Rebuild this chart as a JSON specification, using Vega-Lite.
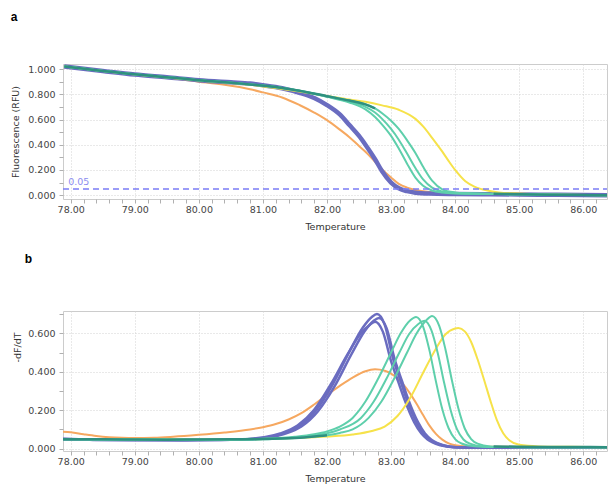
{
  "$schema": "https://vega.github.io/schema/vega-lite/v6.json",
  "padding": {"left": 10, "top": 10, "right": 0, "bottom": 0},
  "spacing": 20,
  "config": {
    "view": {"stroke": "#cccccc"},
    "font": "DejaVu Sans",
    "axis": {"labelFont": "DejaVu Sans", "labelFontSize": 9.5, "labelColor": "#444444", "titleFont": "DejaVu Sans", "titleFontSize": 9.5, "titleFontWeight": "normal", "titleColor": "#333333", "gridColor": "#d2d2d2", "gridDash": [1, 2], "tickColor": "#b0b0b0", "tickSize": 4, "domain": false, "labelOverlap": false, "labelFlush": false},
    "axisX": {"labelPadding": 1, "titlePadding": 8},
    "axisY": {"labelPadding": 4, "titlePadding": 7},
    "title": {"font": "Liberation Sans", "fontSize": 12, "fontWeight": "bold", "anchor": "start", "frame": "bounds", "color": "#000000"}
  },
  "datasets": {
    "a": [
      {"g":"o","s":"o","t":77.9,"v":1.02},{"g":"o","s":"o","t":78.5,"v":0.985},{"g":"o","s":"o","t":79.0,"v":0.955},{"g":"o","s":"o","t":79.5,"v":0.93},{"g":"o","s":"o","t":80.0,"v":0.9},{"g":"o","s":"o","t":80.4,"v":0.875},{"g":"o","s":"o","t":80.8,"v":0.84},{"g":"o","s":"o","t":81.0,"v":0.815},{"g":"o","s":"o","t":81.3,"v":0.775},{"g":"o","s":"o","t":81.57,"v":0.715},{"g":"o","s":"o","t":81.8,"v":0.655},{"g":"o","s":"o","t":82.0,"v":0.595},{"g":"o","s":"o","t":82.2,"v":0.52},{"g":"o","s":"o","t":82.35,"v":0.46},{"g":"o","s":"o","t":82.5,"v":0.39},{"g":"o","s":"o","t":82.6,"v":0.345},{"g":"o","s":"o","t":82.75,"v":0.265},{"g":"o","s":"o","t":82.86,"v":0.205},{"g":"o","s":"o","t":83.0,"v":0.14},{"g":"o","s":"o","t":83.12,"v":0.09},{"g":"o","s":"o","t":83.25,"v":0.06},{"g":"o","s":"o","t":83.38,"v":0.042},{"g":"o","s":"o","t":83.6,"v":0.026},{"g":"o","s":"o","t":84.0,"v":0.016},{"g":"o","s":"o","t":84.5,"v":0.01},{"g":"o","s":"o","t":85.0,"v":0.007},{"g":"o","s":"o","t":85.5,"v":0.004},{"g":"o","s":"o","t":86.37,"v":0.0},
      {"g":"p","s":"p","t":77.9,"v":1.02},{"g":"p","s":"p","t":78.5,"v":0.985},{"g":"p","s":"p","t":79.0,"v":0.957},{"g":"p","s":"p","t":79.5,"v":0.935},{"g":"p","s":"p","t":80.0,"v":0.912},{"g":"p","s":"p","t":80.5,"v":0.895},{"g":"p","s":"p","t":80.8,"v":0.885},{"g":"p","s":"p","t":81.0,"v":0.872},{"g":"p","s":"p","t":81.3,"v":0.848},{"g":"p","s":"p","t":81.57,"v":0.812},{"g":"p","s":"p","t":81.8,"v":0.77},{"g":"p","s":"p","t":82.0,"v":0.714},{"g":"p","s":"p","t":82.2,"v":0.64},{"g":"p","s":"p","t":82.35,"v":0.556},{"g":"p","s":"p","t":82.5,"v":0.47},{"g":"p","s":"p","t":82.6,"v":0.4},{"g":"p","s":"p","t":82.75,"v":0.285},{"g":"p","s":"p","t":82.86,"v":0.19},{"g":"p","s":"p","t":83.0,"v":0.1},{"g":"p","s":"p","t":83.12,"v":0.055},{"g":"p","s":"p","t":83.25,"v":0.032},{"g":"p","s":"p","t":83.38,"v":0.02},{"g":"p","s":"p","t":83.6,"v":0.013},{"g":"p","s":"p","t":84.0,"v":0.01},{"g":"p","s":"p","t":84.5,"v":0.008},{"g":"p","s":"p","t":85.0,"v":0.006},{"g":"p","s":"p","t":85.6,"v":0.003},{"g":"p","s":"p","t":86.37,"v":0.0},
      {"g":"y","s":"y","t":77.9,"v":1.02},{"g":"y","s":"y","t":79.0,"v":0.957},{"g":"y","s":"y","t":80.0,"v":0.91},{"g":"y","s":"y","t":80.8,"v":0.876},{"g":"y","s":"y","t":81.57,"v":0.822},{"g":"y","s":"y","t":82.0,"v":0.787},{"g":"y","s":"y","t":82.35,"v":0.758},{"g":"y","s":"y","t":82.6,"v":0.74},{"g":"y","s":"y","t":82.86,"v":0.712},{"g":"y","s":"y","t":83.12,"v":0.677},{"g":"y","s":"y","t":83.38,"v":0.605},{"g":"y","s":"y","t":83.5,"v":0.545},{"g":"y","s":"y","t":83.64,"v":0.455},{"g":"y","s":"y","t":83.8,"v":0.345},{"g":"y","s":"y","t":83.9,"v":0.27},{"g":"y","s":"y","t":84.0,"v":0.2},{"g":"y","s":"y","t":84.16,"v":0.11},{"g":"y","s":"y","t":84.3,"v":0.068},{"g":"y","s":"y","t":84.42,"v":0.047},{"g":"y","s":"y","t":84.68,"v":0.022},{"g":"y","s":"y","t":85.0,"v":0.013},{"g":"y","s":"y","t":85.5,"v":0.006},{"g":"y","s":"y","t":86.37,"v":0.0},
      {"g":"t","s":"t1","t":77.9,"v":1.02},{"g":"t","s":"t1","t":79.0,"v":0.958},{"g":"t","s":"t1","t":80.0,"v":0.912},{"g":"t","s":"t1","t":80.8,"v":0.878},{"g":"t","s":"t1","t":81.3,"v":0.85},{"g":"t","s":"t1","t":81.57,"v":0.828},{"g":"t","s":"t1","t":82.0,"v":0.78},{"g":"t","s":"t1","t":82.35,"v":0.735},{"g":"t","s":"t1","t":82.6,"v":0.68},{"g":"t","s":"t1","t":82.75,"v":0.62},{"g":"t","s":"t1","t":82.86,"v":0.56},{"g":"t","s":"t1","t":83.0,"v":0.47},{"g":"t","s":"t1","t":83.12,"v":0.37},{"g":"t","s":"t1","t":83.25,"v":0.25},{"g":"t","s":"t1","t":83.38,"v":0.14},{"g":"t","s":"t1","t":83.5,"v":0.075},{"g":"t","s":"t1","t":83.64,"v":0.037},{"g":"t","s":"t1","t":83.8,"v":0.021},{"g":"t","s":"t1","t":84.0,"v":0.014},{"g":"t","s":"t1","t":84.5,"v":0.01},{"g":"t","s":"t1","t":85.0,"v":0.007},{"g":"t","s":"t1","t":85.6,"v":0.003},{"g":"t","s":"t1","t":86.37,"v":0.0},
      {"g":"t","s":"t2","t":77.9,"v":1.02},{"g":"t","s":"t2","t":79.0,"v":0.958},{"g":"t","s":"t2","t":80.0,"v":0.912},{"g":"t","s":"t2","t":80.8,"v":0.878},{"g":"t","s":"t2","t":81.3,"v":0.85},{"g":"t","s":"t2","t":81.57,"v":0.828},{"g":"t","s":"t2","t":82.0,"v":0.782},{"g":"t","s":"t2","t":82.35,"v":0.742},{"g":"t","s":"t2","t":82.6,"v":0.7},{"g":"t","s":"t2","t":82.75,"v":0.655},{"g":"t","s":"t2","t":82.86,"v":0.605},{"g":"t","s":"t2","t":83.0,"v":0.525},{"g":"t","s":"t2","t":83.12,"v":0.44},{"g":"t","s":"t2","t":83.25,"v":0.33},{"g":"t","s":"t2","t":83.38,"v":0.215},{"g":"t","s":"t2","t":83.5,"v":0.125},{"g":"t","s":"t2","t":83.64,"v":0.06},{"g":"t","s":"t2","t":83.8,"v":0.03},{"g":"t","s":"t2","t":84.0,"v":0.017},{"g":"t","s":"t2","t":84.5,"v":0.011},{"g":"t","s":"t2","t":85.0,"v":0.007},{"g":"t","s":"t2","t":85.6,"v":0.003},{"g":"t","s":"t2","t":86.37,"v":0.0},
      {"g":"t","s":"t3","t":77.9,"v":1.02},{"g":"t","s":"t3","t":79.0,"v":0.958},{"g":"t","s":"t3","t":80.0,"v":0.912},{"g":"t","s":"t3","t":80.8,"v":0.878},{"g":"t","s":"t3","t":81.3,"v":0.85},{"g":"t","s":"t3","t":81.57,"v":0.828},{"g":"t","s":"t3","t":82.0,"v":0.785},{"g":"t","s":"t3","t":82.35,"v":0.75},{"g":"t","s":"t3","t":82.6,"v":0.72},{"g":"t","s":"t3","t":82.75,"v":0.688},{"g":"t","s":"t3","t":82.86,"v":0.65},{"g":"t","s":"t3","t":83.0,"v":0.59},{"g":"t","s":"t3","t":83.12,"v":0.525},{"g":"t","s":"t3","t":83.25,"v":0.435},{"g":"t","s":"t3","t":83.38,"v":0.335},{"g":"t","s":"t3","t":83.5,"v":0.225},{"g":"t","s":"t3","t":83.64,"v":0.115},{"g":"t","s":"t3","t":83.8,"v":0.047},{"g":"t","s":"t3","t":84.0,"v":0.022},{"g":"t","s":"t3","t":84.2,"v":0.015},{"g":"t","s":"t3","t":84.5,"v":0.011},{"g":"t","s":"t3","t":85.0,"v":0.007},{"g":"t","s":"t3","t":85.6,"v":0.003},{"g":"t","s":"t3","t":86.37,"v":0.0},
      {"g":"k","s":"k1","t":77.9,"v":1.02},{"g":"k","s":"k1","t":79.0,"v":0.958},{"g":"k","s":"k1","t":80.0,"v":0.912},{"g":"k","s":"k1","t":80.8,"v":0.878},{"g":"k","s":"k1","t":81.3,"v":0.85},{"g":"k","s":"k1","t":81.57,"v":0.828},{"g":"k","s":"k1","t":82.0,"v":0.785},{"g":"k","s":"k1","t":82.35,"v":0.75},{"g":"k","s":"k1","t":82.6,"v":0.72},{"g":"k","s":"k1","t":82.75,"v":0.688},
      {"g":"k","s":"k2","t":84.6,"v":0.012},{"g":"k","s":"k2","t":85.0,"v":0.008},{"g":"k","s":"k2","t":85.5,"v":0.004},{"g":"k","s":"k2","t":86.0,"v":0.001},{"g":"k","s":"k2","t":86.37,"v":0.0}
    ],
    "b": [
      {"g":"o","s":"o","t":77.88,"v":0.088},{"g":"o","s":"o","t":78.0,"v":0.085},{"g":"o","s":"o","t":78.2,"v":0.075},{"g":"o","s":"o","t":78.4,"v":0.066},{"g":"o","s":"o","t":78.6,"v":0.06},{"g":"o","s":"o","t":78.8,"v":0.057},{"g":"o","s":"o","t":79.0,"v":0.056},{"g":"o","s":"o","t":79.3,"v":0.057},{"g":"o","s":"o","t":79.6,"v":0.062},{"g":"o","s":"o","t":80.0,"v":0.072},{"g":"o","s":"o","t":80.4,"v":0.084},{"g":"o","s":"o","t":80.8,"v":0.1},{"g":"o","s":"o","t":81.0,"v":0.112},{"g":"o","s":"o","t":81.2,"v":0.128},{"g":"o","s":"o","t":81.4,"v":0.152},{"g":"o","s":"o","t":81.6,"v":0.185},{"g":"o","s":"o","t":81.8,"v":0.23},{"g":"o","s":"o","t":82.0,"v":0.28},{"g":"o","s":"o","t":82.2,"v":0.327},{"g":"o","s":"o","t":82.4,"v":0.37},{"g":"o","s":"o","t":82.6,"v":0.403},{"g":"o","s":"o","t":82.75,"v":0.413},{"g":"o","s":"o","t":82.9,"v":0.405},{"g":"o","s":"o","t":83.0,"v":0.39},{"g":"o","s":"o","t":83.1,"v":0.365},{"g":"o","s":"o","t":83.2,"v":0.33},{"g":"o","s":"o","t":83.3,"v":0.285},{"g":"o","s":"o","t":83.4,"v":0.232},{"g":"o","s":"o","t":83.5,"v":0.175},{"g":"o","s":"o","t":83.6,"v":0.12},{"g":"o","s":"o","t":83.7,"v":0.077},{"g":"o","s":"o","t":83.8,"v":0.047},{"g":"o","s":"o","t":83.9,"v":0.028},{"g":"o","s":"o","t":84.0,"v":0.018},{"g":"o","s":"o","t":84.2,"v":0.012},{"g":"o","s":"o","t":84.6,"v":0.01},{"g":"o","s":"o","t":85.2,"v":0.009},{"g":"o","s":"o","t":86.37,"v":0.008},
      {"g":"p","s":"p1","t":77.88,"v":0.05},{"g":"p","s":"p1","t":78.3,"v":0.047},{"g":"p","s":"p1","t":79.0,"v":0.045},{"g":"p","s":"p1","t":79.5,"v":0.044},{"g":"p","s":"p1","t":80.0,"v":0.045},{"g":"p","s":"p1","t":80.5,"v":0.047},{"g":"p","s":"p1","t":80.8,"v":0.05},{"g":"p","s":"p1","t":81.05,"v":0.058},{"g":"p","s":"p1","t":81.3,"v":0.078},{"g":"p","s":"p1","t":81.57,"v":0.118},{"g":"p","s":"p1","t":81.83,"v":0.2},{"g":"p","s":"p1","t":82.09,"v":0.335},{"g":"p","s":"p1","t":82.35,"v":0.505},{"g":"p","s":"p1","t":82.56,"v":0.63},{"g":"p","s":"p1","t":82.7,"v":0.685},{"g":"p","s":"p1","t":82.78,"v":0.7},{"g":"p","s":"p1","t":82.9,"v":0.645},{"g":"p","s":"p1","t":83.03,"v":0.47},{"g":"p","s":"p1","t":83.14,"v":0.36},{"g":"p","s":"p1","t":83.24,"v":0.26},{"g":"p","s":"p1","t":83.39,"v":0.14},{"g":"p","s":"p1","t":83.5,"v":0.08},{"g":"p","s":"p1","t":83.6,"v":0.048},{"g":"p","s":"p1","t":83.8,"v":0.018},{"g":"p","s":"p1","t":84.0,"v":0.008},{"g":"p","s":"p1","t":84.5,"v":0.005},{"g":"p","s":"p1","t":86.37,"v":0.005},
      {"g":"p","s":"p2","t":77.88,"v":0.048},{"g":"p","s":"p2","t":78.3,"v":0.046},{"g":"p","s":"p2","t":79.0,"v":0.044},{"g":"p","s":"p2","t":79.5,"v":0.045},{"g":"p","s":"p2","t":80.0,"v":0.046},{"g":"p","s":"p2","t":80.5,"v":0.047},{"g":"p","s":"p2","t":80.8,"v":0.049},{"g":"p","s":"p2","t":81.08,"v":0.057},{"g":"p","s":"p2","t":81.33,"v":0.076},{"g":"p","s":"p2","t":81.6,"v":0.115},{"g":"p","s":"p2","t":81.86,"v":0.195},{"g":"p","s":"p2","t":82.12,"v":0.325},{"g":"p","s":"p2","t":82.38,"v":0.49},{"g":"p","s":"p2","t":82.59,"v":0.612},{"g":"p","s":"p2","t":82.73,"v":0.665},{"g":"p","s":"p2","t":82.81,"v":0.68},{"g":"p","s":"p2","t":82.93,"v":0.627},{"g":"p","s":"p2","t":83.06,"v":0.46},{"g":"p","s":"p2","t":83.17,"v":0.352},{"g":"p","s":"p2","t":83.27,"v":0.255},{"g":"p","s":"p2","t":83.42,"v":0.138},{"g":"p","s":"p2","t":83.53,"v":0.079},{"g":"p","s":"p2","t":83.63,"v":0.047},{"g":"p","s":"p2","t":83.83,"v":0.017},{"g":"p","s":"p2","t":84.03,"v":0.008},{"g":"p","s":"p2","t":84.5,"v":0.005},{"g":"p","s":"p2","t":86.37,"v":0.005},
      {"g":"p","s":"p3","t":77.88,"v":0.052},{"g":"p","s":"p3","t":78.3,"v":0.048},{"g":"p","s":"p3","t":79.0,"v":0.046},{"g":"p","s":"p3","t":79.5,"v":0.045},{"g":"p","s":"p3","t":80.0,"v":0.044},{"g":"p","s":"p3","t":80.5,"v":0.046},{"g":"p","s":"p3","t":80.8,"v":0.051},{"g":"p","s":"p3","t":81.02,"v":0.059},{"g":"p","s":"p3","t":81.27,"v":0.079},{"g":"p","s":"p3","t":81.54,"v":0.12},{"g":"p","s":"p3","t":81.8,"v":0.202},{"g":"p","s":"p3","t":82.06,"v":0.335},{"g":"p","s":"p3","t":82.32,"v":0.49},{"g":"p","s":"p3","t":82.53,"v":0.6},{"g":"p","s":"p3","t":82.67,"v":0.645},{"g":"p","s":"p3","t":82.75,"v":0.66},{"g":"p","s":"p3","t":82.87,"v":0.61},{"g":"p","s":"p3","t":83.0,"v":0.455},{"g":"p","s":"p3","t":83.11,"v":0.35},{"g":"p","s":"p3","t":83.21,"v":0.255},{"g":"p","s":"p3","t":83.36,"v":0.138},{"g":"p","s":"p3","t":83.47,"v":0.08},{"g":"p","s":"p3","t":83.57,"v":0.048},{"g":"p","s":"p3","t":83.77,"v":0.018},{"g":"p","s":"p3","t":83.97,"v":0.008},{"g":"p","s":"p3","t":84.5,"v":0.005},{"g":"p","s":"p3","t":86.37,"v":0.005},
      {"g":"y","s":"y","t":77.88,"v":0.05},{"g":"y","s":"y","t":79.0,"v":0.05},{"g":"y","s":"y","t":80.0,"v":0.048},{"g":"y","s":"y","t":81.0,"v":0.05},{"g":"y","s":"y","t":81.5,"v":0.055},{"g":"y","s":"y","t":82.0,"v":0.063},{"g":"y","s":"y","t":82.4,"v":0.074},{"g":"y","s":"y","t":82.7,"v":0.092},{"g":"y","s":"y","t":82.9,"v":0.115},{"g":"y","s":"y","t":83.1,"v":0.17},{"g":"y","s":"y","t":83.3,"v":0.265},{"g":"y","s":"y","t":83.5,"v":0.395},{"g":"y","s":"y","t":83.7,"v":0.52},{"g":"y","s":"y","t":83.85,"v":0.595},{"g":"y","s":"y","t":84.0,"v":0.625},{"g":"y","s":"y","t":84.05,"v":0.627},{"g":"y","s":"y","t":84.15,"v":0.61},{"g":"y","s":"y","t":84.25,"v":0.555},{"g":"y","s":"y","t":84.35,"v":0.465},{"g":"y","s":"y","t":84.45,"v":0.36},{"g":"y","s":"y","t":84.55,"v":0.25},{"g":"y","s":"y","t":84.65,"v":0.15},{"g":"y","s":"y","t":84.75,"v":0.08},{"g":"y","s":"y","t":84.85,"v":0.042},{"g":"y","s":"y","t":85.0,"v":0.02},{"g":"y","s":"y","t":85.3,"v":0.012},{"g":"y","s":"y","t":85.8,"v":0.01},{"g":"y","s":"y","t":86.37,"v":0.008},
      {"g":"t","s":"t1","t":77.88,"v":0.05},{"g":"t","s":"t1","t":79.0,"v":0.048},{"g":"t","s":"t1","t":80.0,"v":0.047},{"g":"t","s":"t1","t":80.5,"v":0.048},{"g":"t","s":"t1","t":81.0,"v":0.052},{"g":"t","s":"t1","t":81.5,"v":0.062},{"g":"t","s":"t1","t":81.8,"v":0.075},{"g":"t","s":"t1","t":82.0,"v":0.09},{"g":"t","s":"t1","t":82.2,"v":0.115},{"g":"t","s":"t1","t":82.4,"v":0.16},{"g":"t","s":"t1","t":82.6,"v":0.245},{"g":"t","s":"t1","t":82.8,"v":0.365},{"g":"t","s":"t1","t":83.0,"v":0.5},{"g":"t","s":"t1","t":83.15,"v":0.6},{"g":"t","s":"t1","t":83.3,"v":0.668},{"g":"t","s":"t1","t":83.39,"v":0.685},{"g":"t","s":"t1","t":83.5,"v":0.635},{"g":"t","s":"t1","t":83.6,"v":0.51},{"g":"t","s":"t1","t":83.7,"v":0.35},{"g":"t","s":"t1","t":83.8,"v":0.205},{"g":"t","s":"t1","t":83.9,"v":0.105},{"g":"t","s":"t1","t":84.0,"v":0.05},{"g":"t","s":"t1","t":84.1,"v":0.027},{"g":"t","s":"t1","t":84.3,"v":0.013},{"g":"t","s":"t1","t":84.6,"v":0.009},{"g":"t","s":"t1","t":85.0,"v":0.008},{"g":"t","s":"t1","t":86.37,"v":0.007},
      {"g":"t","s":"t2","t":77.88,"v":0.049},{"g":"t","s":"t2","t":79.0,"v":0.047},{"g":"t","s":"t2","t":80.0,"v":0.046},{"g":"t","s":"t2","t":80.5,"v":0.047},{"g":"t","s":"t2","t":81.0,"v":0.05},{"g":"t","s":"t2","t":81.5,"v":0.058},{"g":"t","s":"t2","t":81.8,"v":0.068},{"g":"t","s":"t2","t":82.0,"v":0.08},{"g":"t","s":"t2","t":82.2,"v":0.1},{"g":"t","s":"t2","t":82.53,"v":0.16},{"g":"t","s":"t2","t":82.73,"v":0.245},{"g":"t","s":"t2","t":82.93,"v":0.365},{"g":"t","s":"t2","t":83.13,"v":0.5},{"g":"t","s":"t2","t":83.28,"v":0.595},{"g":"t","s":"t2","t":83.43,"v":0.65},{"g":"t","s":"t2","t":83.52,"v":0.665},{"g":"t","s":"t2","t":83.63,"v":0.615},{"g":"t","s":"t2","t":83.73,"v":0.495},{"g":"t","s":"t2","t":83.83,"v":0.34},{"g":"t","s":"t2","t":83.93,"v":0.2},{"g":"t","s":"t2","t":84.03,"v":0.1},{"g":"t","s":"t2","t":84.13,"v":0.048},{"g":"t","s":"t2","t":84.23,"v":0.026},{"g":"t","s":"t2","t":84.43,"v":0.012},{"g":"t","s":"t2","t":84.73,"v":0.009},{"g":"t","s":"t2","t":85.1,"v":0.008},{"g":"t","s":"t2","t":86.37,"v":0.007},
      {"g":"t","s":"t3","t":77.88,"v":0.048},{"g":"t","s":"t3","t":79.0,"v":0.047},{"g":"t","s":"t3","t":80.0,"v":0.046},{"g":"t","s":"t3","t":80.5,"v":0.046},{"g":"t","s":"t3","t":81.0,"v":0.049},{"g":"t","s":"t3","t":81.5,"v":0.055},{"g":"t","s":"t3","t":81.8,"v":0.063},{"g":"t","s":"t3","t":82.0,"v":0.07},{"g":"t","s":"t3","t":82.2,"v":0.082},{"g":"t","s":"t3","t":82.4,"v":0.1},{"g":"t","s":"t3","t":82.65,"v":0.16},{"g":"t","s":"t3","t":82.85,"v":0.245},{"g":"t","s":"t3","t":83.05,"v":0.365},{"g":"t","s":"t3","t":83.25,"v":0.5},{"g":"t","s":"t3","t":83.4,"v":0.6},{"g":"t","s":"t3","t":83.55,"v":0.668},{"g":"t","s":"t3","t":83.64,"v":0.69},{"g":"t","s":"t3","t":83.75,"v":0.64},{"g":"t","s":"t3","t":83.85,"v":0.515},{"g":"t","s":"t3","t":83.95,"v":0.355},{"g":"t","s":"t3","t":84.05,"v":0.21},{"g":"t","s":"t3","t":84.15,"v":0.105},{"g":"t","s":"t3","t":84.25,"v":0.05},{"g":"t","s":"t3","t":84.35,"v":0.026},{"g":"t","s":"t3","t":84.55,"v":0.012},{"g":"t","s":"t3","t":84.85,"v":0.009},{"g":"t","s":"t3","t":85.2,"v":0.008},{"g":"t","s":"t3","t":86.37,"v":0.007},
      {"g":"k","s":"k1","t":77.88,"v":0.049},{"g":"k","s":"k1","t":78.5,"v":0.049},{"g":"k","s":"k1","t":79.0,"v":0.048},{"g":"k","s":"k1","t":79.5,"v":0.047},{"g":"k","s":"k1","t":80.0,"v":0.048},{"g":"k","s":"k1","t":80.5,"v":0.049},{"g":"k","s":"k1","t":81.0,"v":0.05},{"g":"k","s":"k1","t":81.5,"v":0.055},{"g":"k","s":"k1","t":81.8,"v":0.063},{"g":"k","s":"k1","t":82.0,"v":0.07},
      {"g":"k","s":"k2","t":84.6,"v":0.012},{"g":"k","s":"k2","t":85.0,"v":0.01},{"g":"k","s":"k2","t":85.5,"v":0.009},{"g":"k","s":"k2","t":86.0,"v":0.009},{"g":"k","s":"k2","t":86.37,"v":0.008}
    ]
  },
  "vconcat": [
    {
      "title": {"text": "a", "offset": 40, "dx": 0},
      "width": 544,
      "height": 135,
      "data": {"name": "a"},
      "encoding": {
        "x": {"field": "t", "type": "quantitative", "title": "Temperature",
          "scale": {"domain": [77.88, 86.37], "nice": false, "zero": false},
          "axis": {"values": [78,78.2,78.4,78.6,78.8,79,79.2,79.4,79.6,79.8,80,80.2,80.4,80.6,80.8,81,81.2,81.4,81.6,81.8,82,82.2,82.4,82.6,82.8,83,83.2,83.4,83.6,83.8,84,84.2,84.4,84.6,84.8,85,85.2,85.4,85.6,85.8,86,86.2],
            "labelExpr": "datum.value % 1 === 0 ? format(datum.value, '.2f') : ''",
            "gridOpacity": {"condition": {"test": "datum.value % 1 === 0", "value": 1}, "value": 0}}},
        "y": {"field": "v", "type": "quantitative", "title": "Fluorescence (RFU)",
          "scale": {"domain": [-0.03, 1.04], "nice": false, "zero": false},
          "axis": {"values": [0,0.1,0.2,0.3,0.4,0.5,0.6,0.7,0.8,0.9,1.0],
            "labelExpr": "round(datum.value*10) % 2 === 0 ? format(datum.value, '.3f') : ''",
            "gridOpacity": {"condition": {"test": "round(datum.value*10) % 2 === 0", "value": 1}, "value": 0}}}
      },
      "layer": [
        {"transform": [{"filter": "datum.g === 'o'"}], "mark": {"type": "line", "color": "#f6a860", "strokeWidth": 2, "interpolate": "monotone", "clip": true}, "encoding": {"detail": {"field": "s"}}},
        {"transform": [{"filter": "datum.g === 'p'"}], "mark": {"type": "line", "color": "#6a6cc0", "strokeWidth": 4.5, "interpolate": "monotone", "clip": true}, "encoding": {"detail": {"field": "s"}}},
        {"transform": [{"filter": "datum.g === 'y'"}], "mark": {"type": "line", "color": "#f6e24a", "strokeWidth": 2, "interpolate": "monotone", "clip": true}, "encoding": {"detail": {"field": "s"}}},
        {"transform": [{"filter": "datum.g === 't'"}], "mark": {"type": "line", "color": "#5ecfab", "strokeWidth": 2, "interpolate": "monotone", "clip": true}, "encoding": {"detail": {"field": "s"}}},
        {"transform": [{"filter": "datum.g === 'k'"}], "mark": {"type": "line", "color": "#2f9080", "strokeWidth": 2.5, "interpolate": "monotone", "clip": true}, "encoding": {"detail": {"field": "s"}}},
        {"data": {"values": [{"t": 77.88, "v": 0.05}, {"t": 86.37, "v": 0.05}]}, "mark": {"type": "line", "color": "#7b7cf5", "strokeDash": [6, 4], "strokeWidth": 1.5, "clip": true}, "encoding": {}},
        {"data": {"values": [{"t": 77.96, "v": 0.05, "label": "0.05"}]}, "mark": {"type": "text", "align": "left", "baseline": "bottom", "dy": -2, "color": "#8c8cf0", "fontSize": 9.5, "font": "DejaVu Sans"}, "encoding": {"text": {"field": "label"}}}
      ]
    },
    {
      "title": {"text": "b", "offset": 43, "dx": 12},
      "width": 544,
      "height": 140,
      "data": {"name": "b"},
      "encoding": {
        "x": {"field": "t", "type": "quantitative", "title": "Temperature",
          "scale": {"domain": [77.88, 86.37], "nice": false, "zero": false},
          "axis": {"values": [78,78.2,78.4,78.6,78.8,79,79.2,79.4,79.6,79.8,80,80.2,80.4,80.6,80.8,81,81.2,81.4,81.6,81.8,82,82.2,82.4,82.6,82.8,83,83.2,83.4,83.6,83.8,84,84.2,84.4,84.6,84.8,85,85.2,85.4,85.6,85.8,86,86.2],
            "labelExpr": "datum.value % 1 === 0 ? format(datum.value, '.2f') : ''",
            "gridOpacity": {"condition": {"test": "datum.value % 1 === 0", "value": 1}, "value": 0}}},
        "y": {"field": "v", "type": "quantitative", "title": "-dF/dT",
          "scale": {"domain": [-0.012, 0.716], "nice": false, "zero": false},
          "axis": {"values": [0,0.1,0.2,0.3,0.4,0.5,0.6,0.7], "titlePadding": 5, "titleY": 36,
            "labelExpr": "round(datum.value*10) % 2 === 0 ? format(datum.value, '.3f') : ''",
            "gridOpacity": {"condition": {"test": "round(datum.value*10) % 2 === 0", "value": 1}, "value": 0}}}
      },
      "layer": [
        {"transform": [{"filter": "datum.g === 'o'"}], "mark": {"type": "line", "color": "#f6a860", "strokeWidth": 2, "interpolate": "monotone", "clip": true}, "encoding": {"detail": {"field": "s"}}},
        {"transform": [{"filter": "datum.g === 'p'"}], "mark": {"type": "line", "color": "#6a6cc0", "strokeWidth": 2.5, "interpolate": "monotone", "clip": true}, "encoding": {"detail": {"field": "s"}}},
        {"transform": [{"filter": "datum.g === 'y'"}], "mark": {"type": "line", "color": "#f6e24a", "strokeWidth": 2, "interpolate": "monotone", "clip": true}, "encoding": {"detail": {"field": "s"}}},
        {"transform": [{"filter": "datum.g === 't'"}], "mark": {"type": "line", "color": "#5ecfab", "strokeWidth": 2, "interpolate": "monotone", "clip": true}, "encoding": {"detail": {"field": "s"}}},
        {"transform": [{"filter": "datum.g === 'k'"}], "mark": {"type": "line", "color": "#2f9080", "strokeWidth": 2.5, "interpolate": "monotone", "clip": true}, "encoding": {"detail": {"field": "s"}}}
      ]
    }
  ]
}
